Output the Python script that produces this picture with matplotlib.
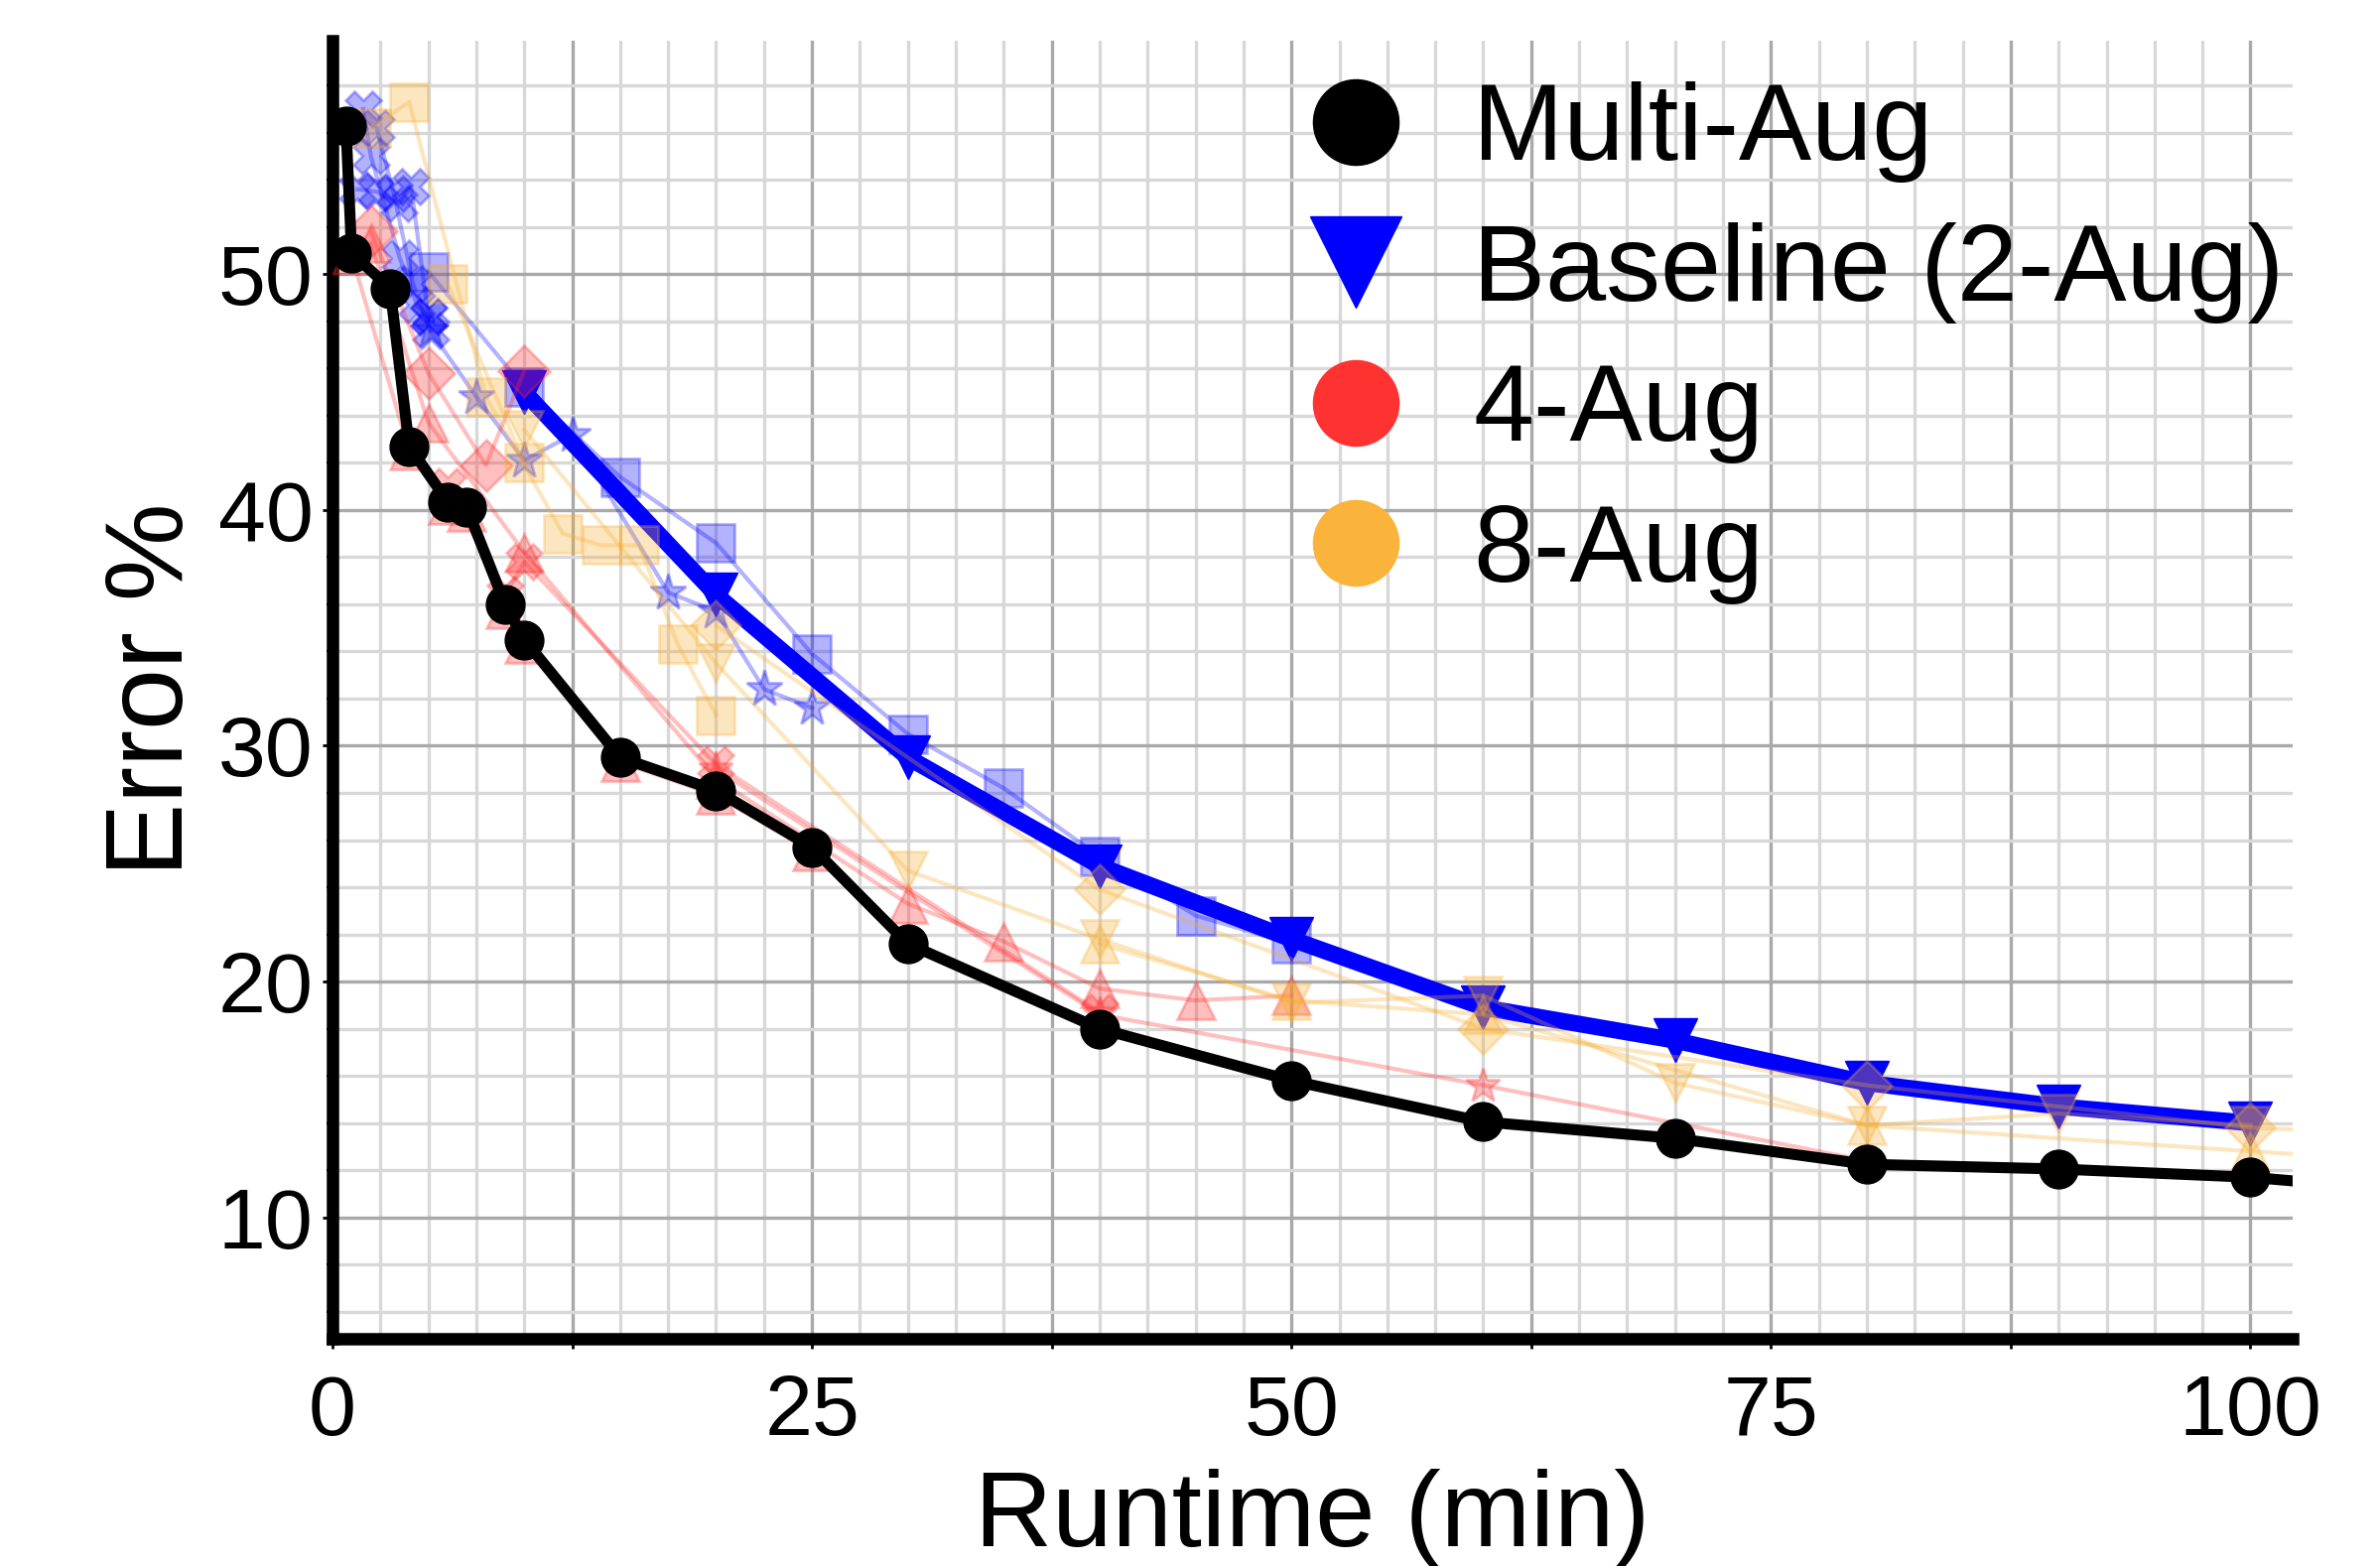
import matplotlib
matplotlib.use("Agg")
import matplotlib.pyplot as plt
from matplotlib.lines import Line2D
from matplotlib.ticker import MultipleLocator, FuncFormatter

plt.rcParams['font.family'] = ['Liberation Sans', 'DejaVu Sans']

# Multi-Aug (main result)
multi_runtime = [0.7, 1, 3, 4, 6, 7, 9, 10, 15, 20, 25, 30, 40, 50, 60, 70, 80, 90, 100, 110]
multi_error = [56.3, 50.9, 49.4, 42.7, 40.35, 40.1, 36.0, 34.5, 29.5, 28.1, 25.7, 21.6,
               18.0, 15.8, 14.05, 13.35, 12.25, 12.05, 11.7, 11.0]

# Baseline (2-Aug), best run
base_runtime = [10, 20, 30, 40, 50, 60, 70, 80, 90, 100]
base_error = [45.0, 36.4, 29.5, 24.9, 21.8, 18.9, 17.5, 15.7, 14.7, 14.0]

# other 2-Aug runs
b_xa_runtime = [1.6, 2.0, 3.5, 4.4, 5.0]
b_xa_error = [57.0, 55.0, 50.7, 48.7, 48.2]
b_xb_runtime = [2.3, 3.2, 4.2, 5.1]
b_xb_error = [56.2, 53.4, 49.6, 47.6]
b_xc_runtime = [1.3, 2.3, 3.45, 4.1, 5.0]
b_xc_error = [53.6, 53.5, 53.0, 53.7, 48.2]
b_star_runtime = [5.1, 7.5, 10, 12.5, 17.5, 20, 22.5, 25]
b_star_error = [47.6, 44.8, 42.1, 43.2, 36.5, 35.7, 32.4, 31.6]
b_sq_runtime = [5, 10, 15, 20, 25, 30, 35, 40, 45, 50]
b_sq_error = [50.1, 45.2, 41.4, 38.6, 33.9, 30.5, 28.2, 25.3, 22.8, 21.6]

# 4-Aug runs
r_d_runtime = [2, 5, 8, 10]
r_d_error = [51.8, 45.8, 41.9, 45.9]
r_t1_runtime = [1, 4, 6, 7, 9, 10, 15, 20, 25]
r_t1_error = [50.8, 42.5, 40.2, 39.9, 35.8, 34.3, 29.3, 27.9, 25.5]
r_t2_runtime = [2, 5, 10, 20, 30, 35, 40, 45, 50]
r_t2_error = [51.3, 43.7, 38.2, 28.6, 23.3, 21.7, 19.7, 19.2, 19.4]
r_x_runtime = [6, 9, 10, 20, 40]
r_x_error = [41.0, 36.4, 37.8, 29.2, 18.7]
r_star_runtime = [20, 40, 60, 80]
r_star_error = [29.0, 18.6, 15.6, 12.4]

# 8-Aug runs
o_sq_runtime = [2, 4, 8, 12, 14, 16, 18, 20]
o_sq_error = [56.2, 57.3, 44.8, 39.0, 38.5, 38.5, 34.3, 31.3]
o_sq2_runtime = [6, 10]
o_sq2_error = [49.6, 42.0]
o_v_runtime = [10, 20, 30, 40, 50, 60, 70, 80, 90, 100]
o_v_error = [43.4, 33.5, 24.7, 21.8, 19.1, 19.4, 15.7, 13.9, 14.4, 13.9]
o_d_runtime = [20, 40, 60, 80, 100, 110]
o_d_error = [35.1, 23.9, 18.0, 15.6, 13.8, 13.5]
o_t_runtime = [40, 50, 60, 80, 100, 110]
o_t_error = [21.6, 19.2, 18.6, 13.9, 12.8, 12.3]

BLUE = '#0000ff'
RED = '#ff2b2b'
ORANGE = '#f8ae30'

faint_runs = [
    (b_sq_runtime, b_sq_error, BLUE, 's', 28),
    (b_star_runtime, b_star_error, BLUE, '*', 28),
    (b_xa_runtime, b_xa_error, BLUE, 'X', 26),
    (b_xb_runtime, b_xb_error, BLUE, 'X', 26),
    (b_xc_runtime, b_xc_error, BLUE, 'X', 26),
    (r_d_runtime, r_d_error, RED, 'D', 26),
    (r_t1_runtime, r_t1_error, RED, '^', 27),
    (r_t2_runtime, r_t2_error, RED, '^', 27),
    (r_x_runtime, r_x_error, RED, 'X', 26),
    (r_star_runtime, r_star_error, RED, '*', 26),
    (o_sq_runtime, o_sq_error, ORANGE, 's', 27),
    (o_sq2_runtime, o_sq2_error, ORANGE, 's', 27),
    (o_v_runtime, o_v_error, ORANGE, 'v', 28),
    (o_d_runtime, o_d_error, ORANGE, 'D', 25),
    (o_t_runtime, o_t_error, ORANGE, '^', 27),
]

fig = plt.figure(figsize=(23.98, 15.78), dpi=100)
ax = fig.add_axes([0.1397, 0.1451, 0.8236, 0.8289])

ax.plot(base_runtime, base_error, color=BLUE, lw=12, marker='v', ms=31, zorder=3)

for x, y, c, m, ms in faint_runs:
    ax.plot(x, y, color=c, marker=m, ms=ms, lw=3, alpha=0.3,
            markeredgewidth=2, zorder=4)

ax.plot(multi_runtime, multi_error, color='black', lw=8, marker='o', ms=28, zorder=5)

ax.set_xlim(0, 102.2)
ax.set_ylim(4.85, 59.9)

ax.xaxis.set_major_locator(MultipleLocator(12.5))
ax.xaxis.set_minor_locator(MultipleLocator(2.5))
ax.xaxis.set_major_formatter(FuncFormatter(lambda v, p: f"{v:.0f}" if v % 25 == 0 else ""))
ax.yaxis.set_major_locator(MultipleLocator(10))
ax.yaxis.set_minor_locator(MultipleLocator(2))

ax.set_axisbelow(True)
ax.grid(which='major', color='#a9a9a9', lw=2.4)
ax.grid(which='minor', color='#d8d8d8', lw=2.4)

for s in ['top', 'right']:
    ax.spines[s].set_visible(False)
for s in ['left', 'bottom']:
    ax.spines[s].set_linewidth(9)

ax.tick_params(axis='both', which='major', labelsize=62, length=7, width=2)
ax.tick_params(axis='both', which='minor', length=4, width=1.5)
ax.tick_params(axis='x', which='major', pad=18)
ax.tick_params(axis='y', which='major', pad=7)

ax.set_xlabel("Runtime (min)", fontsize=78)
ax.set_ylabel("Error %", fontsize=80)
ax.xaxis.set_label_coords(0.5, -0.10)
ax.yaxis.set_label_coords(-0.065, 0.5)

handles = [
    Line2D([], [], ls='none', marker='o', color='black', ms=62),
    Line2D([], [], ls='none', marker='v', color=BLUE, ms=66),
    Line2D([], [], ls='none', marker='o', color='#ff3232', ms=62),
    Line2D([], [], ls='none', marker='o', color='#fab43c', ms=62),
]
labels = ["Multi-Aug", "Baseline (2-Aug)", "4-Aug", "8-Aug"]
fig.legend(handles, labels, loc='upper left', bbox_to_anchor=(0.5467, 0.948),
           frameon=False, fontsize=79, handlelength=1.0, handletextpad=0.58,
           labelspacing=0.36, borderpad=0, borderaxespad=0)

fig.savefig("out.png", dpi=100)
